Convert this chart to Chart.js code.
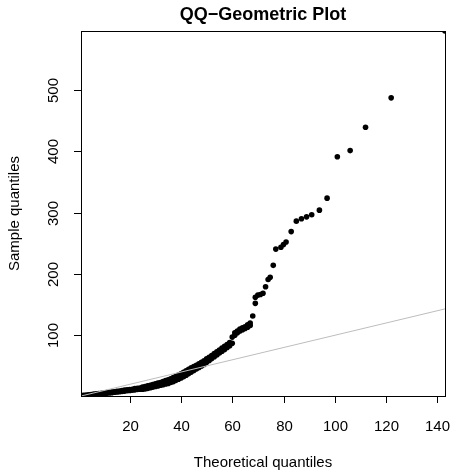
<!DOCTYPE html>
<html>
<head>
<meta charset="utf-8">
<script src="https://cdn.jsdelivr.net/npm/chart.js@4/dist/chart.umd.min.js"></script>
<style>
  html, body { margin: 0; padding: 0; background: #fff; }
  canvas { display: block; }
</style>
</head>
<body>
<canvas id="qqChart" width="453" height="471"></canvas>
<script>
// axis ranges and ticks
const xRange = [1, 143];
const yRange = [1, 596];
const xTicks = [20, 40, 60, 80, 100, 120, 140];
const yTicks = [100, 200, 300, 400, 500];

// theoretical (geometric) quantiles vs sorted sample
const theoretical = [
    1, 2, 2, 3, 3, 4, 4, 5, 5, 6, 6, 7, 7, 8, 8, 9, 9, 10, 10,
    11, 11, 12, 12, 13, 13, 14, 14, 15, 15, 16, 16, 17, 17, 18, 18, 19, 19, 20, 20,
    21, 21, 22, 22, 23, 23, 24, 24, 25, 25, 26, 26, 27, 27, 28, 28, 29, 29, 30, 30,
    31, 31, 32, 32, 33, 33, 34, 34, 35, 35, 36, 36, 37, 37, 38, 38, 39, 39, 40, 40,
    41, 41, 42, 42, 43, 43, 44, 44, 45, 45, 46, 46, 47, 47, 48, 48, 49, 49, 50, 50,
    51, 51, 52, 52, 53, 53, 54, 54, 55, 55, 56, 56, 57, 57, 58, 58, 59, 59, 60, 60,
    61, 61, 62, 62, 63, 63, 64, 64, 65, 65, 66, 66, 67, 67,
    68, 69, 69, 70, 71, 72, 73, 74, 74.8, 76, 77, 79, 80, 81, 83, 85, 87, 89, 91,
    94, 97, 101, 106, 112, 122, 143
];
const sample = [
    1, 1, 2, 1.5, 2.5, 2, 3, 2.5, 3.5, 3, 4, 3.5, 4.5, 4, 5, 4.5, 5.5, 5, 6,
    5.5, 6.5, 6, 7, 6.5, 7.5, 7, 8, 7.5, 8.5, 8, 9, 8.5, 10, 9, 10.5, 9.5, 11, 10, 11.5,
    10.5, 12, 11, 13, 11.5, 13.5, 12, 14, 12, 15.5, 12.5, 16.5, 13.5, 17.5, 14.5, 18.5, 15.5, 19.5, 16.5, 21,
    17.5, 22, 18.5, 23, 19.5, 24.5, 20.5, 26, 21.5, 27.5, 23, 29, 24.5, 31, 26.5, 33, 28.5, 35, 30.5, 37,
    32.5, 39.5, 35, 42, 37.5, 44.5, 40, 47, 42.5, 49, 45, 51, 47.5, 53.5, 50, 56, 52.5, 58.5, 56, 61.5,
    59, 64, 62, 67, 65, 70, 68, 73, 71, 76, 74, 79, 77, 82, 80, 85, 83, 88, 87, 97,
    100, 104, 104, 107, 107, 110, 109, 112, 111, 114, 113, 117, 116, 120,
    131.5, 152, 162, 165.5, 166.5, 168.5, 179, 191, 194.5, 214, 240.5, 243.5, 248, 252, 269, 286, 290, 293, 296.5,
    304, 323.5, 391, 401, 439, 487, 596
];

// reference line y = x
const lineX = [1, 143];
const lineY = [1, 143];

const FONT = '"Liberation Sans", Arial, Helvetica, sans-serif';

// R-style frame: box, outward ticks, rotated y labels, titles
const baseAxes = {
    id: 'baseAxes',
    afterDraw(chart) {
        const { ctx, chartArea: a, scales: { x, y } } = chart;
        ctx.save();
        ctx.strokeStyle = '#000';
        ctx.lineWidth = 1;
        ctx.strokeRect(a.left + 0.5, a.top + 0.5, a.right - a.left, a.bottom - a.top);

        ctx.fillStyle = '#000';
        ctx.font = '15px ' + FONT;
        ctx.textAlign = 'center';
        ctx.textBaseline = 'alphabetic';
        xTicks.forEach(v => {
            const px = Math.round(x.getPixelForValue(v)) + 0.5;
            ctx.beginPath();
            ctx.moveTo(px, a.bottom);
            ctx.lineTo(px, a.bottom + 7);
            ctx.stroke();
            ctx.fillText(String(v), px, 431);
        });
        yTicks.forEach(v => {
            const py = Math.round(y.getPixelForValue(v)) + 0.5;
            ctx.beginPath();
            ctx.moveTo(a.left, py);
            ctx.lineTo(a.left - 7, py);
            ctx.stroke();
            ctx.save();
            ctx.translate(58, py);
            ctx.rotate(-Math.PI / 2);
            ctx.fillText(String(v), 0, 0);
            ctx.restore();
        });

        const cx = (a.left + a.right) / 2;
        const cy = (a.top + a.bottom) / 2;
        ctx.fillText('Theoretical quantiles', cx, 467);
        ctx.save();
        ctx.translate(19, cy);
        ctx.rotate(-Math.PI / 2);
        ctx.fillText('Sample quantiles', 0, 0);
        ctx.restore();

        ctx.font = 'bold 18px ' + FONT;
        ctx.fillText('QQ\u2212Geometric Plot', cx, 20);
        ctx.restore();
    }
};

new Chart(document.getElementById('qqChart'), {
    type: 'scatter',
    data: {
        datasets: [{
            type: 'line',
            data: lineX.map((v, i) => ({ x: v, y: lineY[i] })),
            borderColor: '#bdbdbd',
            borderWidth: 1,
            pointRadius: 0,
            fill: false
        }, {
            data: theoretical.map((v, i) => ({ x: v, y: sample[i] })),
            backgroundColor: '#000',
            borderWidth: 0,
            pointRadius: 2.8
        }]
    },
    options: {
        responsive: false,
        animation: false,
        devicePixelRatio: 1,
        layout: { padding: { left: 81, top: 31, right: 8, bottom: 75 } },
        plugins: { legend: { display: false }, tooltip: { enabled: false } },
        scales: {
            x: { type: 'linear', min: xRange[0], max: xRange[1], display: false },
            y: { type: 'linear', min: yRange[0], max: yRange[1], display: false }
        }
    },
    plugins: [baseAxes]
});
</script>
</body>
</html>
